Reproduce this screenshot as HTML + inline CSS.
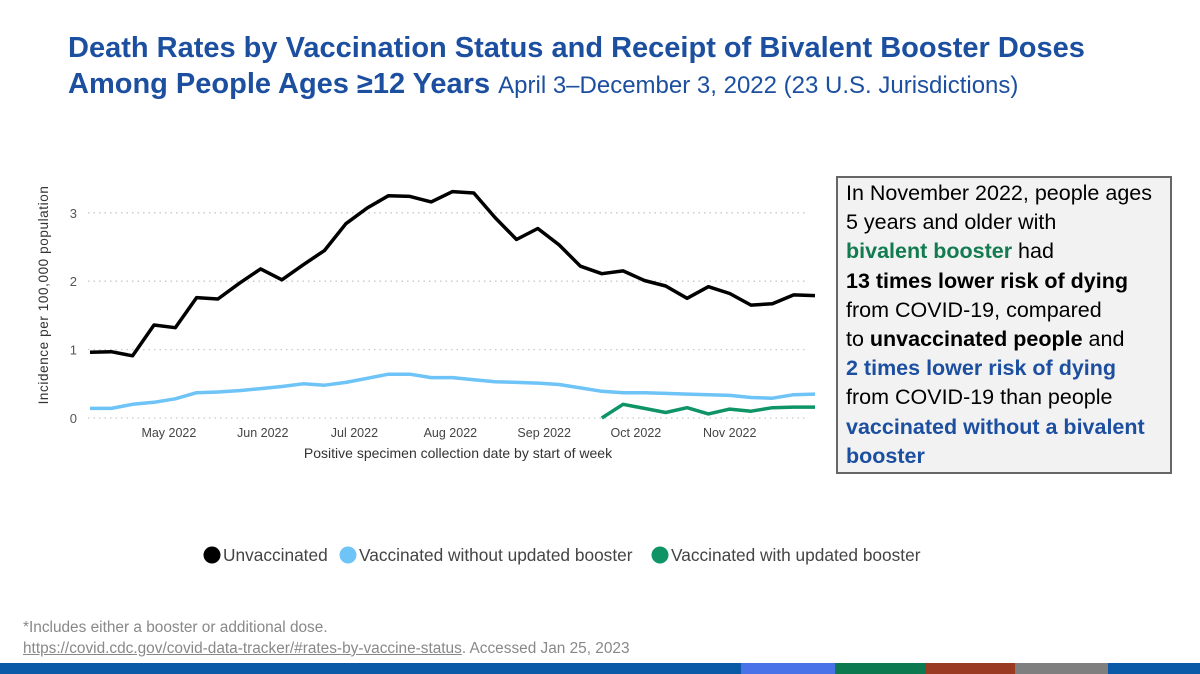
<!DOCTYPE html>
<html><head><meta charset="utf-8"><style>
body{margin:0;width:1200px;height:674px;background:#fff;position:relative;overflow:hidden;font-family:"Liberation Sans",sans-serif}
.t{position:absolute;left:68px;color:#1c4fa0;font-weight:bold;font-size:29px;white-space:nowrap}
.box{position:absolute;left:836px;top:176px;background:#f2f2f2;border:2px solid #666;padding:0 0 0 8px;box-sizing:border-box;width:336px;height:298px;font-size:21.5px;line-height:29.2px;color:#000;padding-top:1px;white-space:nowrap}
.g{color:#127b50;font-weight:bold}.b{color:#1c4fa0;font-weight:bold}
.foot{position:absolute;left:23px;font-size:15.4px;color:#888}
</style></head><body>
<div class="t" style="top:32px">Death Rates by Vaccination Status and Receipt of Bivalent Booster Doses</div>
<div class="t" style="top:68px">Among People Ages ≥12 Years <span style="font-weight:normal;font-size:24px">April 3–December 3, 2022 (23 U.S. Jurisdictions)</span></div>
<svg id="chart" width="1200" height="674" style="position:absolute;left:0;top:0"></svg>
<div class="box">In November 2022, people ages<br>5 years and older with<br><span class="g">bivalent booster</span> had<br><b>13 times lower risk of dying</b><br>from COVID-19, compared<br>to <b>unvaccinated people</b> and<br><span class="b">2 times lower risk of dying</span><br>from COVID-19 than people<br><span class="b">vaccinated without a bivalent<br>booster</span></div>
<div class="foot" style="top:619px">*Includes either a booster or additional dose.</div>
<div class="foot" style="top:640px"><span style="text-decoration:underline">https://covid.cdc.gov/covid-data-tracker/#rates-by-vaccine-status</span>. Accessed Jan 25, 2023</div>
<div style="position:absolute;left:0;top:663px;width:1200px;height:11px;background:#0a5aa8">
<div style="position:absolute;left:741px;width:94px;height:11px;background:#4a72e8"></div>
<div style="position:absolute;left:835px;width:90px;height:11px;background:#0c7a4e"></div>
<div style="position:absolute;left:925px;width:90px;height:11px;background:#9a3a22"></div>
<div style="position:absolute;left:1015px;width:93px;height:11px;background:#7f7f7f"></div>
</div>
<script>
const unvax=[0.96,0.97,0.91,1.36,1.32,1.76,1.74,1.97,2.18,2.02,2.24,2.45,2.84,3.07,3.25,3.24,3.16,3.31,3.29,2.93,2.61,2.77,2.53,2.22,2.11,2.15,2.01,1.93,1.75,1.92,1.82,1.65,1.67,1.80,1.79];
const vaxNoBooster=[0.14,0.14,0.20,0.23,0.28,0.37,0.38,0.40,0.43,0.46,0.50,0.48,0.52,0.58,0.64,0.64,0.59,0.59,0.56,0.53,0.52,0.51,0.49,0.44,0.39,0.37,0.37,0.36,0.35,0.34,0.33,0.30,0.29,0.34,0.35];
const vaxBooster=[null,null,null,null,null,null,null,null,null,null,null,null,null,null,null,null,null,null,null,null,null,null,null,null,0.0,0.20,0.14,0.08,0.15,0.06,0.13,0.10,0.15,0.16,0.16];
const yTicks=[0,1,2,3];
const monthLabels=["May 2022","Jun 2022","Jul 2022","Aug 2022","Sep 2022","Oct 2022","Nov 2022"];
const monthWeekIdx=[3.7,8.1,12.4,16.9,21.3,25.6,30];
const NS="http://www.w3.org/2000/svg",svg=document.getElementById('chart');
const x=i=>90+i*(815-90)/34, y=v=>418-v*68.4;
function mk(t,a){const e=document.createElementNS(NS,t);for(const k in a)e.setAttribute(k,a[k]);svg.appendChild(e);return e;}
yTicks.forEach(v=>{
 const l=mk('line',{x1:88,x2:805,y1:y(v),y2:y(v),stroke:'#c8c8c8','stroke-dasharray':'1.5,4','stroke-width':1.3});
 
 
 const t=mk('text',{x:77,y:y(v)+5,'text-anchor':'end','font-size':13,fill:'#555'});t.textContent=v;
 
 
});
monthLabels.forEach((m,i)=>{
 const t=mk('text',{x:x(monthWeekIdx[i]),y:437,'text-anchor':'middle','font-size':12.5,fill:'#444'});t.textContent=m;
 
 
});
let t=mk('text',{x:458,y:458,'text-anchor':'middle','font-size':14,fill:'#333'});t.textContent='Positive specimen collection date by start of week';


t=mk('text',{x:0,y:0,'text-anchor':'middle','font-size':13.5,fill:'#333','letter-spacing':'0.6',transform:'translate(48,295) rotate(-90)'});t.textContent='Incidence per 100,000 population';


function line(d,c,n){let p='';d.forEach((v,i)=>{if(v==null)return;p+=(p?'L':'M')+x(i).toFixed(1)+','+y(v).toFixed(1);});
 const e=mk('path',{d:p,fill:'none',stroke:c,'stroke-width':3.5,'stroke-linejoin':'round'});
 
 }
line(vaxNoBooster,'#6ec3f7','line-vaccinated-without-booster');
line(vaxBooster,'#0f9466','line-vaccinated-with-booster');
line(unvax,'#000','line-unvaccinated');
const leg=[['Unvaccinated','#000',204],['Vaccinated without updated booster','#6ec3f7',340],['Vaccinated with updated booster','#0f9466',652]];
leg.forEach(([n,c,lx])=>{
 const g=mk('g',{});
 
 
 const ci=document.createElementNS(NS,'circle');ci.setAttribute('cx',lx+8);ci.setAttribute('cy',555);ci.setAttribute('r',8.5);ci.setAttribute('fill',c);g.appendChild(ci);
 const tx=document.createElementNS(NS,'text');tx.setAttribute('x',lx+19);tx.setAttribute('y',561);tx.setAttribute('font-size',17.3);tx.setAttribute('fill','#444');tx.textContent=n;g.appendChild(tx);
});
</script>
</body></html>
